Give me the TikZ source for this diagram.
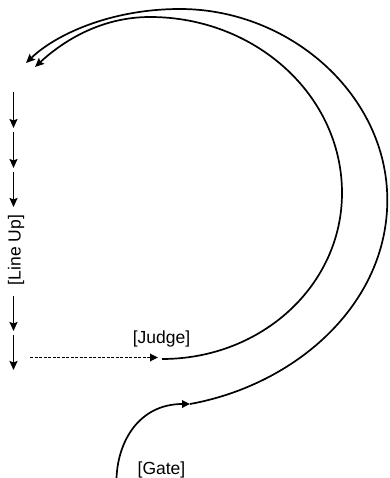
\documentclass[tikz,border=0pt]{standalone}
\usepackage{fontspec}
\setmainfont{Liberation Sans}
\usetikzlibrary{arrows.meta}
\tikzset{
  flow/.style={line width=1.8pt,-{Stealth[length=9pt,width=8pt,inset=1.5pt]}},
  tri/.style={line width=1.7pt,-{Triangle[length=8pt,width=7.5pt]}},
  curve/.style={line width=1.7pt},
  lbl/.style={font=\fontsize{17.5}{20}\selectfont,inner sep=0pt},
  dotline/.style={tri,dash pattern=on 3pt off 1.5pt}
}
\begin{document}
\begin{tikzpicture}[x=1pt,y=-1pt]
\useasboundingbox (0,0) rectangle (389,478);
% line-up arrows
\coordinate (a1) at (13.5,92);  \coordinate (b1) at (13.5,128);
\coordinate (a2) at (13.5,132); \coordinate (b2) at (13.5,168);
\coordinate (a3) at (13.5,172); \coordinate (b3) at (13.5,207);
\coordinate (a4) at (13.5,296); \coordinate (b4) at (13.5,331);
\coordinate (a5) at (13.5,335); \coordinate (b5) at (13.5,370);
\draw[flow] (a1) -- (b1);
\draw[flow] (a2) -- (b2);
\draw[flow] (a3) -- (b3);
\draw[flow] (a4) -- (b4);
\draw[flow] (a5) -- (b5);
\node[lbl,rotate=90] (lineup) at (16,250) {[Line Up]};
% judge
\coordinate (ds) at (30,357.5);
\coordinate (de) at (158,357.5);
\draw[dotline] (ds) -- (de);
\node[lbl] (judge) at (161.5,338.5) {[Judge]};
\coordinate (J) at (162,359);
\coordinate (R1) at (342,193);
\coordinate (T1) at (150,17);
\coordinate (E1) at (35,67);
\draw[curve,-{Stealth[length=9pt,width=8pt,inset=1.5pt]}] (J) .. controls (262,359) and (342,285) .. (R1)
  .. controls (342,95) and (255,17) .. (T1)
  .. controls (100,17) and (62,42) .. (E1);
% gate
\node[lbl] (gate) at (161.5,470) {[Gate]};
\coordinate (G) at (116.5,478);
\coordinate (P) at (190,404);
\draw[tri] (G) .. controls (118,440) and (140,404) .. (P);
\coordinate (R2) at (387.3,200);
\coordinate (T2) at (180,9);
\coordinate (E2) at (26,63);
\draw[curve,-{Stealth[length=9pt,width=8pt,inset=1.5pt]}] (P) .. controls (295,385) and (387.3,305) .. (R2)
  .. controls (387.3,95) and (290,9) .. (T2)
  .. controls (110,9) and (55,35) .. (E2);
\end{tikzpicture}
\end{document}
